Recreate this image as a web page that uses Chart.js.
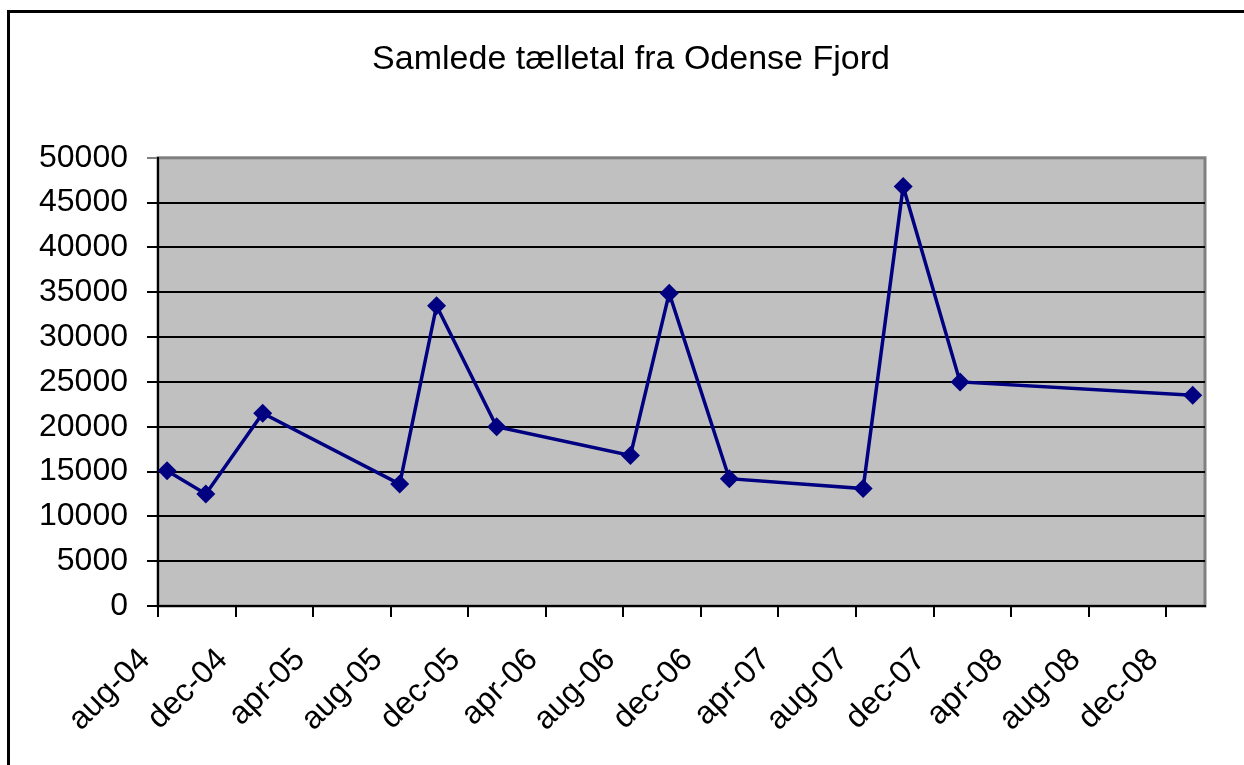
<!DOCTYPE html>
<html>
<head>
<meta charset="utf-8">
<script src="https://cdn.jsdelivr.net/npm/chart.js@4"></script>
<style>
  html, body { margin: 0; padding: 0; background: #fff; overflow: hidden; }
  #frame {
    position: absolute; left: 7px; top: 10px;
    width: 1300px; height: 900px;
    border-left: 3px solid #000; border-top: 3px solid #000;
  }
  #wrap { position: absolute; left: 8px; top: 11px; width: 1246px; height: 754px; }
</style>
</head>
<body>
<div id="frame"></div>
<div id="wrap"><canvas id="fjordChart" width="1246" height="754"></canvas></div>
<script>
// counting dates and total counts
const countDates = ["2004-08-15", "2004-10-15", "2005-01-13", "2005-08-15", "2005-10-12", "2006-01-15",
                    "2006-08-12", "2006-10-12", "2007-01-15", "2007-08-12", "2007-10-14", "2008-01-12", "2009-01-12"];
const countValues = [15100, 12500, 21500, 13600, 33500, 20000, 16800, 34900, 14200, 13100, 46800, 25000, 23500];
const tickLabels = ["aug-04", "dec-04", "apr-05", "aug-05", "dec-05", "apr-06", "aug-06",
                    "dec-06", "apr-07", "aug-07", "dec-07", "apr-08", "aug-08", "dec-08"];

// months since aug-04
function monthIndex(s) {
    const [y, m, d] = s.split('-').map(Number);
    return (y - 2004) * 12 + (m - 8) + (d - 1) / 30;
}

const points = countDates.map((d, i) => ({ x: monthIndex(d), y: countValues[i] }));
const fontFamily = "'Liberation Sans', Arial, sans-serif";

const plotBackground = {
    id: 'plotBackground',
    beforeDraw(chart) {
        const a = chart.chartArea;
        const c = chart.ctx;
        c.save();
        c.fillStyle = '#c0c0c0';
        c.fillRect(a.left, a.top, a.right - a.left, a.bottom - a.top);
        c.strokeStyle = '#808080';
        c.lineWidth = 3;
        c.strokeRect(a.left, a.top, a.right - a.left, a.bottom - a.top);
        c.restore();
    }
};

const ctx = document.getElementById('fjordChart').getContext('2d');

new Chart(ctx, {
    type: 'line',
    data: {
        datasets: [{
            label: 'Samlede tælletal',
            data: points,
            borderColor: '#000080',
            backgroundColor: '#000080',
            borderWidth: 3.5,
            pointStyle: 'rectRot',
            pointRadius: 9.5,
            pointBorderWidth: 0,
            tension: 0
        }]
    },
    options: {
        responsive: false,
        animation: false,
        layout: { padding: 0 },
        plugins: {
            legend: { display: false },
            tooltip: { enabled: false },
            title: {
                display: true,
                text: 'Samlede tælletal fra Odense Fjord',
                color: '#000',
                font: { family: fontFamily, size: 34, weight: 'normal' },
                padding: { top: 28, bottom: 78 }
            }
        },
        scales: {
            x: {
                type: 'linear',
                min: 0,
                max: 54,
                afterFit(scale) { scale.height = 159; },
                border: { display: true, color: '#000', width: 2 },
                grid: { drawOnChartArea: false, drawTicks: true, tickLength: 11, color: '#000', lineWidth: 2 },
                ticks: {
                    stepSize: 4,
                    includeBounds: false,
                    minRotation: 45,
                    maxRotation: 45,
                    padding: 24,
                    labelOffset: -13,
                    color: '#000',
                    font: { family: fontFamily, size: 32 },
                    callback: (v) => tickLabels[v / 4]
                }
            },
            y: {
                min: 0,
                max: 50000,
                afterFit(scale) { scale.width = 150; },
                border: { display: true, color: '#000', width: 2 },
                grid: {
                    drawTicks: true,
                    tickLength: 11,
                    lineWidth: 2,
                    color: (c) => (c.tick && c.tick.value === 50000 ? '#808080' : '#000')
                },
                ticks: {
                    stepSize: 5000,
                    padding: 19,
                    color: '#000',
                    font: { family: fontFamily, size: 32 },
                    callback: (v) => String(v)
                }
            },
            // empty strip on the right so the plot ends before the frame
            yRight: {
                position: 'right',
                min: 0,
                max: 50000,
                afterFit(scale) { scale.width = 49; },
                border: { display: false },
                grid: { display: false },
                ticks: { display: false }
            }
        }
    },
    plugins: [plotBackground]
});
</script>
</body>
</html>
